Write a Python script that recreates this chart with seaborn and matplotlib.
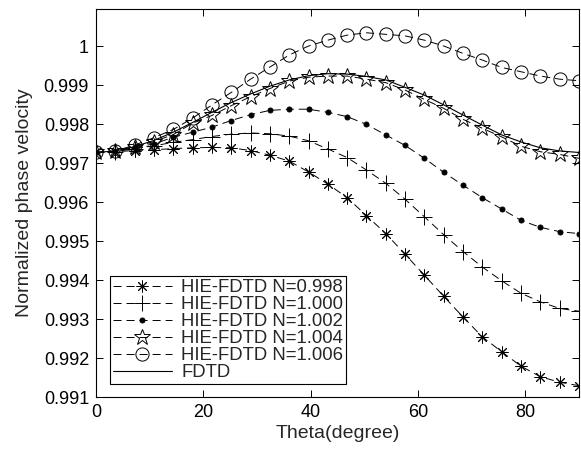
import numpy as np
import pandas as pd
import matplotlib
matplotlib.use('Agg')
import matplotlib.pyplot as plt
from matplotlib.ticker import FuncFormatter
import seaborn as sns

# Propagation angle (degrees), one sample every 3.6 degrees
theta = [0, 3.6, 7.2, 10.8, 14.4, 18, 21.6, 25.2, 28.8, 32.4, 36, 39.6, 43.2,
         46.8, 50.4, 54, 57.6, 61.2, 64.8, 68.4, 72, 75.6, 79.2, 82.8, 86.4, 90]

hie_0998 = [0.99727, 0.99729, 0.99732, 0.99734, 0.99737, 0.99739, 0.99740, 0.99739,
            0.99732, 0.99720, 0.99705, 0.99677, 0.99646, 0.99611, 0.99565, 0.99519,
            0.99466, 0.99412, 0.99358, 0.99305, 0.99254, 0.99216, 0.99179, 0.99152,
            0.99138, 0.99129]
hie_1000 = [0.99727, 0.99729, 0.99737, 0.99744, 0.99753, 0.99760, 0.99768, 0.99774,
            0.99777, 0.99775, 0.99769, 0.99757, 0.99736, 0.99714, 0.99682, 0.99648,
            0.99607, 0.99562, 0.99516, 0.99473, 0.99433, 0.99398, 0.99366, 0.99344,
            0.99327, 0.99320]
hie_1002 = [0.99727, 0.99730, 0.99740, 0.99749, 0.99766, 0.99779, 0.99792, 0.99809,
            0.99824, 0.99835, 0.99838, 0.99838, 0.99830, 0.99819, 0.99799, 0.99772,
            0.99745, 0.99712, 0.99676, 0.99643, 0.99611, 0.99582, 0.99553, 0.99535,
            0.99524, 0.99519]
hie_1004 = [0.99727, 0.99730, 0.99741, 0.99755, 0.99773, 0.99802, 0.99822, 0.99847,
            0.99870, 0.99891, 0.99910, 0.99920, 0.99923, 0.99923, 0.99915, 0.99906,
            0.99887, 0.99863, 0.99840, 0.99812, 0.99789, 0.99767, 0.99743, 0.99729,
            0.99722, 0.99712]
hie_1006 = [0.99727, 0.99731, 0.99746, 0.99765, 0.99786, 0.99815, 0.99849, 0.99881,
            0.99915, 0.99946, 0.99977, 1.00000, 1.00015, 1.00028, 1.00034, 1.00030,
            1.00026, 1.00015, 1.00000, 0.99981, 0.99964, 0.99945, 0.99934, 0.99923,
            0.99915, 0.99911]
fdtd = [0.99727, 0.99731, 0.99742, 0.99758, 0.99779, 0.99804, 0.99830, 0.99855,
        0.99877, 0.99897, 0.99913, 0.99924, 0.99929, 0.99928, 0.99922, 0.99913,
        0.99894, 0.99874, 0.99849, 0.99823, 0.99797, 0.99772, 0.99754, 0.99739,
        0.99731, 0.99727]

labels = ['HIE-FDTD N=0.998', 'HIE-FDTD N=1.000', 'HIE-FDTD N=1.002',
          'HIE-FDTD N=1.004', 'HIE-FDTD N=1.006', 'FDTD']

sns.set_style('ticks')
plt.rcParams['font.family'] = ['Liberation Sans', 'DejaVu Sans']
plt.rcParams['font.size'] = 13

fig = plt.figure(figsize=(5.81, 4.49), dpi=100)
ax = fig.add_axes([0.1652, 0.1158, 0.8314, 0.8642])

# marker, size, fill for each HIE-FDTD curve
styles = [((8, 2, 0), 8.5, 'none'),
          ('+', 11, 'none'),
          ('o', 3.6, 'k'),
          ('*', 12, 'none'),
          ('o', 9.5, 'none')]
series = [hie_0998, hie_1000, hie_1002, hie_1004, hie_1006]

for vals, lab, (mk, ms, fc) in zip(series, labels[:5], styles):
    sns.lineplot(x=theta, y=vals, ax=ax, color='k', linestyle=(0, (8.3, 5.1)),
                 linewidth=0.7, marker=mk, markersize=ms, markerfacecolor=fc,
                 markeredgecolor='k', markeredgewidth=0.7, label=lab)

sns.lineplot(x=theta, y=fdtd, ax=ax, color='k', linestyle='-', linewidth=0.8,
             label=labels[5])

ax.set_xlim(0, 90)
ax.set_ylim(0.991, 1.00095)
ax.set_xticks([0, 20, 40, 60, 80])
ax.set_yticks(np.arange(0.991, 1.0004, 0.001))
ax.yaxis.set_major_formatter(FuncFormatter(lambda v, p: '%g' % round(v, 4)))
ax.tick_params(direction='in', top=True, right=True, length=5, width=0.7,
               pad=5, labelsize=13, colors='k')
for s in ax.spines.values():
    s.set_visible(True)
    s.set_linewidth(0.8)
    s.set_color('k')

ax.set_xlabel('Theta(degree)', fontsize=14, labelpad=3)
ax.set_ylabel('Normalized phase velocity', fontsize=14, labelpad=8)

leg = ax.legend(loc='lower left', bbox_to_anchor=(0.029, 0.034), borderaxespad=0,
                fontsize=13.3, frameon=True, fancybox=False, framealpha=1,
                edgecolor='k', handlelength=3.2, handletextpad=0.5,
                labelspacing=0.0, borderpad=0.15, numpoints=1)
leg.get_frame().set_linewidth(0.8)

fig.savefig('out.png', dpi=100)
